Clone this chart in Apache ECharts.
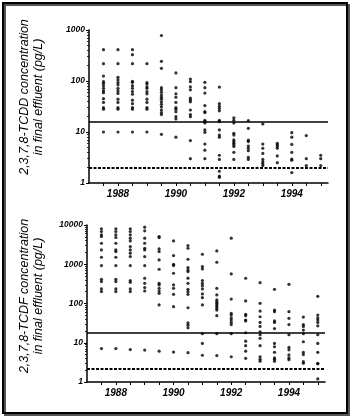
<!DOCTYPE html>
<html><head><meta charset="utf-8">
<script src="https://cdn.jsdelivr.net/npm/echarts@6/dist/echarts.min.js"></script>
<style>html,body{margin:0;padding:0;background:#fff}#c{width:354px;height:420px}</style>
</head><body><div id="c"></div>
<script>
// ---- data ----
const tcddYears = [1987.5,1988,1988.5,1989,1989.5,1990,1990.5,1991,1991.5,1992,1992.5,1993,1993.5,1994,1994.5,1995];
const tcddValues = [
  [411,219,125,97,90,81,72,64,59,45,38,30,28,10],
  [411,219,118,105,93,84,72,64,57,44,38,30,28,10],
  [411,328,219,98,94,81,72,62,55,42,36,30,28,10],
  [219,93,87,77,72,62,56,44,38,30,28,10],
  [780,243,177,74,67,60,53,48,44,39,35,31,27,24,22,9],
  [144,74,56,48,38,30,28,25,20,18,7.9],
  [109,97,77,67,46,42,39,27,22,20,6.8,3.0],
  [94,74,58,33,25,24,17,16,15,11,9.8,5.8,4.4,3.0],
  [76,36,32,29,26,17,16,11,8.7,7.9,3.5,2.9,1.7,1.37,1.29],
  [19,17,15,9.4,8.7,7.0,6.5,6.0,5.6,5.2,4.0,2.9],
  [16.7,11.8,6.9,6.5,5.3,4.8,4.3,3.2,2.9],
  [14.4,5.8,4.8,3.8,2.9,2.6,2.4,2.2],
  [6.0,5.6,5.2,4.8,3.4,2.5],
  [9.7,7.9,5.7,4.0,2.95,2.8,1.6],
  [8.5,3.0,2.2],
  [3.5,3.0,2.2]
];
const tcdfYears = tcddYears;
const tcdfValues = [
  [7980,6820,5610,5090,3430,2320,1510,925,414,361,235,201,7.1],
  [7980,6820,5610,4800,3430,2320,2100,1510,925,414,361,235,201,7.1],
  [7980,6820,5610,4620,3940,2820,2320,1910,1570,925,383,347,235,201,6.7],
  [8800,7100,4620,3430,2560,2320,1570,925,440,327,254,208,6.5],
  [5090,4790,2460,2100,1290,745,327,297,244,208,182,92,6.1],
  [3940,1660,1000,925,589,297,244,171,83,5.8],
  [3000,2560,1340,822,716,650,443,327,230,200,171,78,32,28,24,5.6],
  [1800,871,760,383,327,285,235,175,141,92,17,9.6,4.8],
  [2190,1125,244,165,123,111,101,92,83,75,68,49,17,4.7],
  [4620,566,130,56,51,43,38,33,29,17,4.4],
  [440,116,53,49,38,36,18,11,8.4,6.1,4.0],
  [340,101,64,46,33,26,19,16,13,8.4,4.4,3.8,3.4],
  [230,68,62,36,33,23,9.6,7.9,5.7,4.1,3.8,3.4],
  [308,62,42,29,16,7.6,6.6,4.9,4.1,3.7],
  [45,29,26,21,17,10.6,5.7,5.0,3.3,3.0],
  [152,51,43,38,33,27,16,9.6,5.7,3.0,2.9,1.2]
];
const tcddLimits = {solid: 16, dashed: 2};
const tcdfLimits = {solid: 18, dashed: 2.2};
const tickYears = [1987.5,1988,1988.5,1989,1989.5,1990,1990.5,1991,1991.5,1992,1992.5,1993,1993.5,1994,1994.5,1995];
const labelYears = [1988,1990,1992,1994];
const tcddTitle = '2,3,7,8-TCDD concentration\nin final effluent (pg/L)';
const tcdfTitle = '2,3,7,8-TCDF concentration\nin final effluent (pg/L)';

function pairs(years, vals){
  const out=[]; years.forEach((y,i)=>vals[i].forEach(v=>out.push([y,v]))); return out;
}
const FONT = '"Liberation Sans", Arial, sans-serif';
const plain = v => String(Math.round(v));
function xAxisCfg(gi){
  return {type:'value', gridIndex:gi, min:1987, max:1995.25,
    axisLine:{show:true,lineStyle:{color:'#000',width:1.5}},
    splitLine:{show:false},
    axisTick:{show:true, customValues:tickYears, length:3, lineStyle:{color:'#000',width:1}},
    axisLabel:{show:true, customValues:labelYears, formatter:plain, color:'#000', fontFamily:FONT, fontStyle:'italic', fontWeight:'bold', fontSize:10, margin:6}
  };
}
function yAxisCfg(gi,max){
  return {type:'log', logBase:10, gridIndex:gi, min:1, max:max,
    axisLine:{show:true,lineStyle:{color:'#000',width:1.5}},
    splitLine:{show:false},
    axisTick:{show:true,length:3,lineStyle:{color:'#000'}},
    minorTick:{show:true,splitNumber:9,length:2,lineStyle:{color:'#000',width:0.8}},
    axisLabel:{formatter:plain, color:'#000', fontFamily:FONT, fontStyle:'italic', fontWeight:'bold', fontSize:8.5, margin:4}
  };
}
function series(gi, data, lim){
  return {type:'scatter', xAxisIndex:gi, yAxisIndex:gi, data:data, symbol:'circle', symbolSize:3.2,
    itemStyle:{color:'#000'}, silent:true,
    markLine:{silent:true, symbol:'none', label:{show:false},
      data:[
        {yAxis:lim.solid, lineStyle:{color:'#000',width:1.5,type:'solid'}},
        {yAxis:lim.dashed, lineStyle:{color:'#000',width:2,type:[3,1.5]}}
      ]}
  };
}
const chart = echarts.init(document.getElementById('c'), null, {renderer:'canvas'});
chart.setOption({
  animation:false,
  backgroundColor:'#fff',
  grid:[
    {left:89, top:30, width:239, height:153},
    {left:87, top:225, width:238, height:157}
  ],
  xAxis:[xAxisCfg(0), xAxisCfg(1)],
  yAxis:[yAxisCfg(0,1000), yAxisCfg(1,10000)],
  series:[series(0, pairs(tcddYears,tcddValues), tcddLimits), series(1, pairs(tcdfYears,tcdfValues), tcdfLimits)],
  graphic:[
    {type:'rect', shape:{x:5, y:5, width:344, height:410}, style:{fill:'none', stroke:'#555', lineWidth:2}},
    {type:'rect', shape:{x:3, y:3, width:344, height:410}, style:{fill:'none', stroke:'#000', lineWidth:2}},
    {type:'text', x:32, y:97, rotation:Math.PI/2, style:{text:tcddTitle, font:'italic 12.5px '+FONT, fill:'#000', align:'center', verticalAlign:'middle', lineHeight:14}},
    {type:'text', x:32, y:296, rotation:Math.PI/2, style:{text:tcdfTitle, font:'italic 12.5px '+FONT, fill:'#000', align:'center', verticalAlign:'middle', lineHeight:14}}
  ]
});
</script></body></html>
